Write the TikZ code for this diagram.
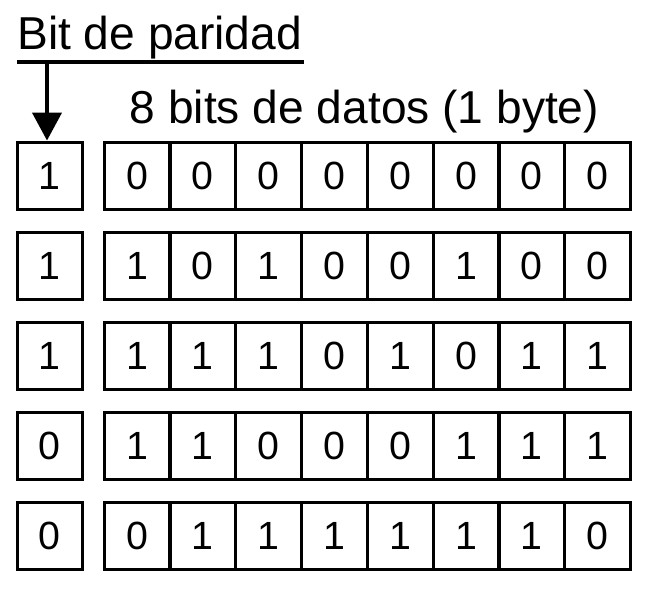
\documentclass[tikz,border=0pt]{standalone}
\usepackage{fontspec}
\setmainfont{Liberation Sans}
\usetikzlibrary{arrows.meta}
\begin{document}
\begin{tikzpicture}[x=0.75pt,y=-0.75pt,
  cell/.style={draw,line width=2.25pt,minimum width=49.5pt,minimum height=50.6pt,inner sep=0pt,
    anchor=north west,font=\fontsize{29.5}{32}\selectfont},
  pcell/.style={cell,minimum width=49.1pt},
  title/.style={inner sep=0pt,anchor=base west,font=\fontsize{34.6}{40}\selectfont}]
\useasboundingbox (0,0) rectangle (647,589);
\node[title] (bp) at (17,50) {Bit de paridad};
\node[title] (db) at (129.5,123) {8 bits de datos (1 byte)};
\coordinate (ul) at (17,62);
\coordinate (ur) at (304,62);
\draw[line width=2.4pt] (ul) -- (ur);
\foreach \p/\bits [count=\r] in {1/{0,0,0,0,0,0,0,0},1/{1,0,1,0,0,1,0,0},1/{1,1,1,0,1,0,1,1},0/{1,1,0,0,0,1,1,1},0/{0,1,1,1,1,1,1,0}}{
  \pgfmathsetmacro{\yy}{140.5+90*(\r-1)}
  \node[pcell] (p\r) at (15.5,\yy) {\p};
  \foreach \bit [count=\c] in \bits{
    \pgfmathsetmacro{\xx}{102.5+65.8*(\c-1)}
    \node[cell] (d\r-\c) at (\xx,\yy) {\bit};
  }
}
\coordinate (ar) at (47,62);
\draw[line width=2.4pt,-{Triangle[width=22pt,length=21pt]}] (ar) -- (ar |- p1.north);
\end{tikzpicture}
\end{document}
